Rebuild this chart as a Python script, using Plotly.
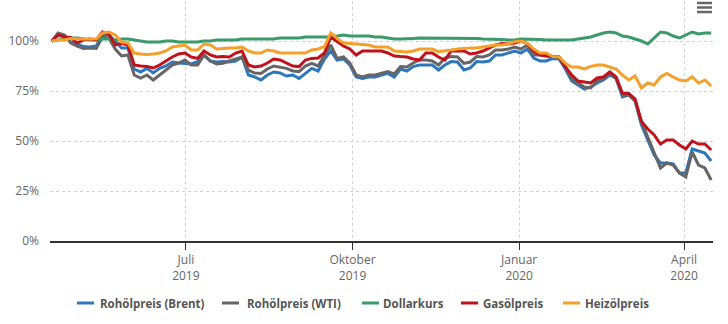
import pandas as pd
import plotly.graph_objects as go

# ---- data (readings every 3.5 days, % of start value) ----
dates = pd.date_range("2019-04-18", periods=105, freq="84h")

brent = [100, 103, 102.5, 99.5, 98.5, 97.2, 97, 97.5, 103, 103,
         100, 96.5, 96.5, 86, 84.5, 86.3, 84, 86.3, 87.5, 89.5,
         89, 88.8, 88.5, 89.7, 93, 90, 89.5, 89.7, 89.5, 90,
         92, 83, 82, 80.5, 83, 84.5, 84, 82.5, 83, 81.3,
         84, 86.3, 85, 91, 95, 90.5, 91, 88, 82, 81.3,
         82, 82, 83, 83.8, 82, 86, 85, 87.2, 88, 88,
         88, 85.5, 88, 89.7, 89.5, 85.5, 86.5, 89.7, 89.5, 90,
         93, 93, 94, 95, 94, 96, 91.5, 90, 90, 91.3,
         91, 86, 80, 78, 76, 77, 79, 80.5, 83, 81.3,
         72, 73, 70, 58, 50, 43, 39, 39, 38.5, 34,
         34, 46, 45, 44, 40]
wti = [100, 104, 103, 99, 97.5, 96.3, 96.5, 96.3, 102, 101.5,
       96, 92.5, 93, 83, 81.5, 83, 80.5, 83, 85.5, 88,
       89, 90.5, 88, 88, 93, 90, 88.5, 88.8, 90, 91,
       92, 85.5, 84, 83.8, 86, 87.5, 87, 86.3, 85, 84.7,
       87.5, 88.8, 87.5, 93, 98, 91.3, 92, 89, 83, 82,
       83, 83, 84, 84.7, 83.5, 87.2, 87, 89, 90.5, 90.5,
       90, 88, 91.5, 92.2, 92, 88.8, 89.5, 92.2, 92, 93,
       95.5, 95.5, 96, 97, 96, 98, 93, 93, 92.5, 92.2,
       92, 87, 81, 79, 77, 76.5, 80, 81.3, 84, 81.3,
       73, 73, 70, 59.7, 52, 44.7, 36.5, 39, 38, 34,
       32, 44.5, 38, 36.5, 30.5]
dollar = [100, 100.5, 101, 101.5, 101.5, 101, 100.5, 100.5, 101, 101,
          100.5, 101, 101, 100.5, 100, 99.5, 99.5, 99.5, 100, 100,
          99.5, 99.5, 99.5, 99.5, 100, 100, 100.5, 100.5, 100.5, 100.5,
          101, 101, 101, 101, 101, 101, 101.5, 101.5, 101.5, 101.5,
          102, 102, 102, 102, 102, 102.5, 103, 102.5, 102.5, 102.5,
          102.5, 102, 102, 101.5, 101, 101, 101, 101.3, 101.5, 101.5,
          101.5, 101.5, 101.5, 101.5, 101.5, 101.5, 101.5, 101.3, 101, 101,
          101, 100.8, 100.5, 100.5, 101, 101, 101, 100.8, 100.5, 100.5,
          100.5, 100.5, 100.5, 101, 101.5, 102, 103, 104, 104.5, 104,
          102.5, 102, 101, 100, 98.5, 101.5, 104.5, 104, 102.5, 101.5,
          103, 104.5, 103.5, 104, 104]
gasoel = [100, 103, 102, 101.8, 99, 100.5, 101, 100.5, 104.5, 103.5,
          98, 98.8, 98, 88, 87.5, 87.3, 86.5, 88, 90, 92,
          93.5, 94, 92, 91.3, 95, 93, 92, 92.2, 92, 94,
          95, 88, 87, 87.5, 89, 91, 90.5, 88.8, 87.5, 87.2,
          90.5, 91.3, 91.5, 94, 102, 99.7, 97.5, 96, 93, 95,
          95, 95, 95, 94, 92.5, 92.2, 92, 91, 90.5, 94,
          94, 92, 90.5, 95, 95, 95, 93.5, 94, 95, 96.5,
          98, 98.8, 98.5, 99, 100, 98.8, 95, 93, 92.5, 92.2,
          92, 87, 83, 80, 79.5, 79, 81.5, 82, 84.5, 82,
          74, 73.8, 71, 59.7, 56, 53, 48.5, 50.5, 50.5, 48,
          46, 50, 48.5, 48.5, 45.5]
heizoel = [100, 100.5, 100.5, 101.3, 101, 101, 101, 101, 104, 104.5,
           103, 99.5, 99, 94, 93.5, 93.3, 93.5, 94, 95, 97,
           97.5, 98, 95.5, 95.5, 98.5, 98, 96, 96.3, 96.5, 96.5,
           97, 95, 94, 94, 95.5, 95, 94, 94, 94, 94,
           94, 95.5, 96, 97.2, 104, 101.3, 99, 98.8, 98.5, 98,
           98, 97, 97, 97, 95, 94.7, 94.5, 95, 96, 96,
           96, 94.7, 95, 95.5, 96, 96.3, 96.5, 96.5, 97, 97.5,
           98, 98, 98.5, 99.7, 100, 98.8, 96, 94, 94, 92.2,
           92, 88.8, 87, 87, 86, 87.3, 88, 88, 87, 86,
           83, 80.5, 82.5, 76.5, 79, 78, 82, 83.8, 82, 80.5,
           80, 82, 79, 80.5, 77.5]

names = ["Rohölpreis (Brent)", "Rohölpreis (WTI)", "Dollarkurs", "Gasölpreis", "Heizölpreis"]
colors = ["#2f77bd", "#666666", "#3a9a6a", "#c0121c", "#f5a02a"]
series = [brent, wti, dollar, gasoel, heizoel]

tick_vals = ["2019-07-01", "2019-10-01", "2020-01-01", "2020-04-01"]
tick_text = ["Juli<br>2019", "Oktober<br>2019", "Januar<br>2020", "April<br>2020"]
y_ticks = [0, 25, 50, 75, 100]
y_text = ["0%", "25%", "50%", "75%", "100%"]

fig = go.Figure()
for n, c, s in zip(names, colors, series):
    fig.add_trace(go.Scatter(x=dates, y=s, name=n, mode="lines",
                             line=dict(color=c, width=3), showlegend=False))

# plot area geometry helpers (pixels -> paper)
L, R, T, B = 50, 713, 1, 241
def px(x):
    return (x - L) / (R - L)
def py(y):
    return (B - y) / (B - T)

fig.update_layout(
    width=728, height=324,
    margin=dict(l=L, r=728 - R, t=T, b=324 - B),
    paper_bgcolor="white", plot_bgcolor="white",
    font=dict(family="Open Sans", color="#666666", size=12),
    xaxis=dict(range=["2019-04-17", "2020-04-17"], tickvals=tick_vals, ticktext=tick_text,
               showgrid=True, gridcolor="#d0d0d0", griddash="dot", gridwidth=1,
               showline=True, linecolor="#333333", linewidth=1.5,
               ticks="outside", ticklen=7, tickcolor="#333333", tickwidth=1,
               tickfont=dict(size=12, color="#666666"), zeroline=False),
    yaxis=dict(range=[0, 120], tickvals=y_ticks, ticktext=y_text,
               showgrid=True, gridcolor="#d0d0d0", griddash="dot", gridwidth=1,
               zeroline=False, showline=False, ticks="", ticklabelstandoff=10,
               tickfont=dict(size=12, color="#666666")),
)

# custom legend
legend_items = [(77, 98), (222, 245), (362, 381), (461, 481), (563, 583)]
shapes = []
annotations = []
for (lx, tx), n, c in zip(legend_items, names, colors):
    shapes.append(dict(type="line", xref="paper", yref="paper",
                       x0=px(lx), x1=px(lx + 17), y0=py(303), y1=py(303),
                       line=dict(color=c, width=3)))
    annotations.append(dict(xref="paper", yref="paper", x=px(tx), y=py(303),
                            xanchor="left", yanchor="middle", showarrow=False,
                            text="<b>" + n + "</b>",
                            font=dict(size=11.5, color="#555555", family="Open Sans")))
# menu icon
for yy in [3, 7.5, 12]:
    shapes.append(dict(type="line", xref="paper", yref="paper",
                       x0=px(697), x1=px(712), y0=py(yy), y1=py(yy),
                       line=dict(color="#666666", width=2.5)))
fig.update_layout(shapes=shapes, annotations=annotations)

fig.write_html("out.html", config={"displayModeBar": False})
